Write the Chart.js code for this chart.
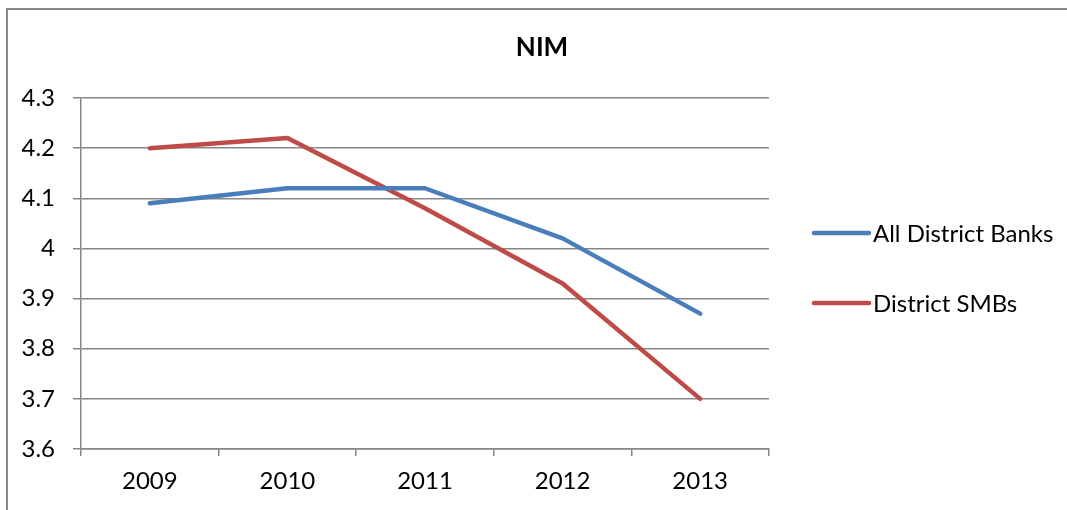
<!DOCTYPE html>
<html>
<head>
<meta charset="utf-8">
<title>NIM</title>
<script src="https://cdn.jsdelivr.net/npm/chart.js@4.4.1/dist/chart.umd.min.js"></script>
<style>
  html, body { margin: 0; padding: 0; background: #fff; overflow: hidden; }
  #wrap { position: relative; width: 1067px; height: 510px; overflow: hidden; }
  #frame {
    position: absolute; left: 6px; top: 8px;
    width: 1300px; height: 700px;
    border-left: 2px solid #8a8a8a;
    border-top: 2px solid #8a8a8a;
  }
  #nimChart { position: absolute; left: 0; top: 0; }
</style>
</head>
<body>
<div id="wrap">
  <div id="frame"></div>
  <canvas id="nimChart" width="1067" height="510"></canvas>
</div>
<script>
const years = ["2009", "2010", "2011", "2012", "2013"];
const allDistrictBanks = [4.09, 4.12, 4.12, 4.02, 3.87];
const districtSMBs = [4.20, 4.22, 4.08, 3.93, 3.70];
const seriesNames = ["All District Banks", "District SMBs"];
const yTicks = [3.6, 3.7, 3.8, 3.9, 4.0, 4.1, 4.2, 4.3];

const fontFamily = "Lato, 'Open Sans', sans-serif";
const gridColor = "#868686";

// title and right-hand legend drawn by hand so the plot area can sit exactly
const decorations = {
  id: "decorations",
  afterDraw(chart) {
    const ctx = chart.ctx;
    ctx.save();

    ctx.fillStyle = "#000";
    ctx.font = "bold 26px " + fontFamily;
    ctx.textAlign = "center";
    ctx.textBaseline = "middle";
    ctx.fillText("NIM", 542, 48);

    ctx.font = "24px " + fontFamily;
    ctx.textAlign = "left";
    chart.data.datasets.forEach((ds, i) => {
      const y = 233 + i * 70;
      ctx.strokeStyle = ds.borderColor;
      ctx.lineWidth = ds.borderWidth;
      ctx.lineCap = "round";
      ctx.beginPath();
      ctx.moveTo(814, y);
      ctx.lineTo(869, y);
      ctx.stroke();
      ctx.fillStyle = "#000";
      ctx.fillText(ds.label, 873, y + 1);
    });

    ctx.restore();
  }
};

new Chart(document.getElementById("nimChart"), {
  type: "line",
  data: {
    labels: years,
    datasets: [
      {
        label: seriesNames[0],
        data: allDistrictBanks,
        borderColor: "#4a7ebb",
        backgroundColor: "#4a7ebb",
        borderWidth: 4.5,
        borderCapStyle: "round",
        borderJoinStyle: "round",
        pointRadius: 0,
        tension: 0
      },
      {
        label: seriesNames[1],
        data: districtSMBs,
        borderColor: "#be4b48",
        backgroundColor: "#be4b48",
        borderWidth: 4.5,
        borderCapStyle: "round",
        borderJoinStyle: "round",
        pointRadius: 0,
        tension: 0
      }
    ]
  },
  options: {
    responsive: false,
    animation: false,
    layout: {
      padding: { left: 17, right: 298, top: 98, bottom: 0 }
    },
    plugins: {
      legend: { display: false },
      title: { display: false },
      tooltip: { enabled: false }
    },
    scales: {
      x: {
        offset: true,
        grid: {
          offset: true,
          drawOnChartArea: false,
          drawTicks: true,
          tickLength: 7,
          color: gridColor,
          lineWidth: 1.5
        },
        border: { display: true, color: gridColor, width: 1.5 },
        ticks: {
          color: "#000",
          padding: 11,
          maxRotation: 0,
          font: { family: fontFamily, size: 24 }
        },
        afterFit(scale) {
          scale.height = 61;
        }
      },
      y: {
        min: yTicks[0],
        max: yTicks[yTicks.length - 1],
        afterBuildTicks(scale) {
          scale.ticks = yTicks.map(v => ({ value: v }));
        },
        grid: {
          color: gridColor,
          lineWidth: 1.5,
          tickLength: 8
        },
        border: { display: true, color: gridColor, width: 1.5 },
        ticks: {
          color: "#000",
          padding: 18,
          font: { family: fontFamily, size: 24 },
          callback: v => String(v)
        },
        afterFit(scale) {
          scale.width = 64;
        }
      }
    }
  },
  plugins: [decorations]
});
</script>
</body>
</html>
